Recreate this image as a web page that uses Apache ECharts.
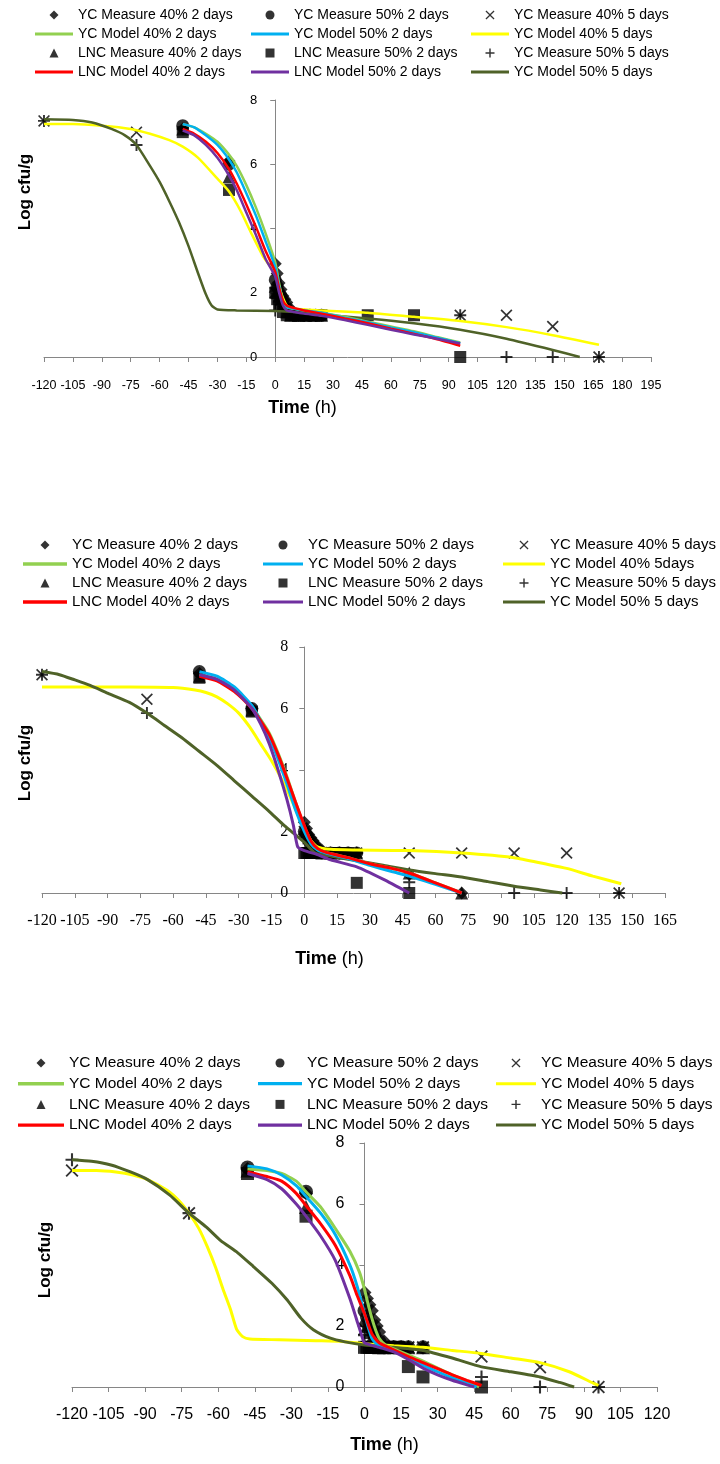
<!DOCTYPE html>
<html><head><meta charset="utf-8">
<script src="https://cdn.jsdelivr.net/npm/echarts@6/dist/echarts.min.js"></script>
<style>html,body{margin:0;padding:0;background:#fff}#c{width:720px;height:1464px}</style>
</head><body><div id="c"></div><script>
// ---------- legend / series names ----------
const LEGEND_COL1 = ['YC Measure 40% 2 days', 'YC Model 40% 2 days', 'LNC Measure 40% 2 days', 'LNC Model 40% 2 days'];
const LEGEND_COL2 = ['YC Measure 50% 2 days', 'YC Model 50% 2 days', 'LNC Measure 50% 2 days', 'LNC Model 50% 2 days'];
const LEGEND_COL3 = ['YC Measure 40% 5 days', 'YC Model 40% 5 days', 'YC Measure 50% 5 days', 'YC Model 50% 5 days'];
const LEGEND_COL3_P2 = ['YC Measure 40% 5 days', 'YC Model 40% 5days', 'YC Measure 50% 5 days', 'YC Model 50% 5 days'];
const X_MIN = -120;
const X_MAX = [195, 165, 120];

// ---------- Panel 1 data [time h, log cfu/g] ----------
const p1_ycModel40_2d = [[-48,7.25],[-42,7.15],[-36,6.95],[-30,6.7],[-24,6.3],[-20,5.95],[-15,5.35],[-10,4.65],[-5,3.85],[0,2.95],[2,2.3],[4,1.75],[6,1.55],[10,1.5],[15,1.45],[24,1.38],[36,1.25],[48,1.1],[60,0.95],[72,0.8],[84,0.62],[96,0.45]];
const p1_ycModel50_2d = [[-48,7.25],[-42,7.15],[-36,6.9],[-30,6.6],[-24,6.15],[-20,5.75],[-15,5.1],[-10,4.4],[-5,3.6],[0,2.8],[2,2.2],[4,1.7],[6,1.55],[10,1.5],[15,1.45],[24,1.38],[36,1.22],[48,1.08],[60,0.92],[72,0.77],[84,0.6],[96,0.43]];
const p1_lncModel40_2d = [[-48,7.1],[-42,6.95],[-36,6.7],[-30,6.35],[-24,5.85],[-20,5.4],[-15,4.75],[-10,4.05],[-5,3.3],[0,2.65],[2,2.15],[4,1.75],[6,1.6],[10,1.52],[15,1.45],[24,1.35],[36,1.2],[48,1.05],[60,0.88],[72,0.72],[84,0.55],[96,0.35]];
const p1_lncModel50_2d = [[-48,7.05],[-42,6.9],[-36,6.6],[-30,6.2],[-24,5.65],[-20,5.2],[-15,4.5],[-10,3.8],[-5,3.05],[0,2.5],[2,2.0],[4,1.6],[6,1.45],[10,1.4],[15,1.35],[24,1.28],[36,1.15],[48,1.0],[60,0.85],[72,0.7],[84,0.57],[96,0.42]];
const p1_ycModel40_5d = [[-120,7.25],[-105,7.25],[-90,7.2],[-75,7.1],[-65,6.95],[-55,6.75],[-48,6.55],[-40,6.2],[-30,5.55],[-24,5.15],[-18,4.55],[-12,3.8],[-6,3.1],[0,2.6],[3,2.0],[6,1.6],[10,1.5],[24,1.45],[48,1.38],[72,1.25],[96,1.12],[120,0.93],[144,0.68],[168,0.38]];
const p1_ycModel50_5d = [[-120,7.4],[-105,7.38],[-95,7.3],[-85,7.1],[-78,6.9],[-72,6.6],[-65,5.95],[-60,5.45],[-55,4.85],[-50,4.2],[-45,3.45],[-40,2.6],[-36,1.95],[-33,1.6],[-30,1.48],[-20,1.45],[0,1.43],[10,1.4],[24,1.32],[48,1.2],[72,1.05],[96,0.85],[120,0.57],[144,0.22],[158,0]];
const p1_ycMeas40_2d = [[-48,7.1],[-24,6.1],[0,2.9],[1,2.6],[2,2.3],[3,2.1],[4,1.9],[5,1.8],[6,1.7],[8,1.5],[10,1.35],[12,1.3],[15,1.3],[18,1.3],[21,1.3],[24,1.3]];
const p1_ycMeas50_2d = [[-48,7.2],[-24,6.0],[0,2.4],[1,2.2],[2,2.0],[3,1.9],[4,1.7],[6,1.5],[8,1.4],[10,1.3],[12,1.3],[15,1.3],[18,1.3],[21,1.3],[24,1.3]];
const p1_lncMeas40_2d = [[-48,7.1],[-24,5.6],[0,2.2],[1,2.0],[2,1.9],[3,1.8],[4,1.6],[6,1.4],[8,1.3],[12,1.3],[16,1.3],[20,1.3],[24,1.3]];
const p1_lncMeas50_2d = [[-48,7.0],[-24,5.2],[0,2.0],[1,1.8],[2,1.6],[4,1.4],[6,1.3],[8,1.3],[10,1.3],[12,1.3],[14,1.3],[16,1.3],[18,1.3],[20,1.3],[22,1.3],[24,1.3],[48,1.3],[72,1.3],[96,0]];
const p1_ycMeas40_5d = [[-120,7.35],[-72,7.0],[0,2.0],[96,1.3],[120,1.3],[144,0.95],[168,0]];
const p1_ycMeas50_5d = [[-120,7.35],[-72,6.6],[0,1.45],[96,1.3],[120,0],[144,0],[168,0]];

// ---------- Panel 2 data ----------
const p2_ycModel40_2d = [[-48,7.1],[-40,6.95],[-32,6.6],[-24,6.05],[-20,5.65],[-16,5.2],[-12,4.55],[-8,3.8],[-4,2.95],[0,2.15],[3,1.7],[6,1.45],[10,1.32],[20,1.15],[30,0.95],[40,0.8],[48,0.65],[60,0.33],[72,0]];
const p2_ycModel50_2d = [[-48,7.2],[-40,7.05],[-32,6.7],[-24,6.1],[-20,5.6],[-16,5.05],[-12,4.35],[-8,3.55],[-4,2.7],[0,2.0],[3,1.6],[6,1.4],[10,1.3],[20,1.12],[30,0.9],[40,0.7],[48,0.55],[60,0.28],[72,0]];
const p2_lncModel40_2d = [[-48,7.05],[-40,6.9],[-32,6.55],[-24,6.0],[-20,5.6],[-16,5.15],[-12,4.5],[-8,3.75],[-4,2.95],[0,2.2],[3,1.7],[6,1.45],[10,1.32],[20,1.15],[30,0.95],[40,0.8],[48,0.65],[60,0.33],[72,0]];
const p2_lncModel50_2d = [[-48,7.1],[-40,6.95],[-32,6.6],[-24,6.0],[-20,5.5],[-16,4.85],[-12,4.0],[-8,3.05],[-5,2.2],[-3,1.5],[0,1.38],[6,1.25],[12,1.08],[24,0.85],[36,0.45],[48,0]];
const p2_ycModel40_5d = [[-120,6.7],[-100,6.7],[-80,6.7],[-60,6.68],[-50,6.6],[-45,6.52],[-40,6.38],[-35,6.15],[-30,5.85],[-25,5.4],[-20,4.85],[-15,4.3],[-10,3.65],[-6,3.05],[-2,2.4],[0,2.1],[3,1.7],[6,1.5],[12,1.42],[24,1.4],[48,1.38],[72,1.3],[96,1.15],[110,0.95],[120,0.8],[132,0.55],[145,0.3]];
const p2_ycModel50_5d = [[-120,7.2],[-112,7.1],[-105,6.93],[-98,6.75],[-90,6.5],[-80,6.2],[-72,5.85],[-64,5.45],[-56,5.05],[-48,4.6],[-40,4.15],[-32,3.65],[-24,3.15],[-16,2.65],[-10,2.25],[-5,1.95],[0,1.65],[5,1.3],[12,1.2],[24,1.05],[36,0.9],[48,0.75],[60,0.63],[72,0.52],[84,0.37],[96,0.22],[108,0.1],[118,0]];
const p2_ycMeas40_2d = [[-48,7.15],[-24,6.0],[0,2.3],[1,2.1],[2,1.9],[3,1.8],[4,1.7],[5,1.6],[6,1.5],[8,1.4],[10,1.3],[12,1.3],[16,1.3],[20,1.3],[24,1.3],[48,0.6],[72,0]];
const p2_ycMeas50_2d = [[-48,7.2],[-24,6.0],[0,2.0],[1,1.9],[2,1.7],[4,1.5],[6,1.4],[8,1.3],[12,1.3],[16,1.3],[20,1.3],[24,1.3]];
const p2_lncMeas40_2d = [[-48,7.05],[-24,5.95],[0,2.1],[1,2.0],[2,1.8],[3,1.7],[4,1.6],[6,1.4],[8,1.3],[12,1.3],[16,1.3],[20,1.3],[24,1.3],[48,0.65],[72,0]];
const p2_lncMeas50_2d = [[-48,7.0],[-24,5.9],[0,1.3],[1,1.3],[2,1.3],[3,1.3],[4,1.3],[6,1.3],[8,1.3],[10,1.3],[12,1.3],[14,1.3],[16,1.3],[18,1.3],[20,1.3],[24,0.33],[48,0]];
const p2_ycMeas40_5d = [[-120,7.1],[-72,6.3],[0,2.0],[24,1.3],[48,1.3],[72,1.3],[96,1.3],[120,1.3],[144,0]];
const p2_ycMeas50_5d = [[-120,7.1],[-72,5.85],[0,1.8],[24,1.3],[48,0.35],[96,0],[120,0],[144,0]];

// ---------- Panel 3 data ----------
const p3_ycModel40_2d = [[-48,7.15],[-40,7.1],[-34,7.0],[-28,6.75],[-24,6.4],[-18,5.9],[-12,5.2],[-6,4.45],[-2,3.75],[0,3.2],[2,2.55],[4,2.0],[6,1.6],[9,1.35],[12,1.25],[18,1.05],[24,0.85],[30,0.62],[36,0.4],[42,0.2],[47,0]];
const p3_ycModel50_2d = [[-48,7.25],[-40,7.15],[-34,6.95],[-28,6.6],[-24,6.25],[-18,5.7],[-12,5.0],[-6,4.0],[-3,3.3],[0,2.4],[3,1.6],[6,1.35],[12,1.2],[18,0.95],[24,0.72],[30,0.5],[36,0.3],[42,0.12],[46,0]];
const p3_lncModel40_2d = [[-48,7.05],[-40,6.9],[-34,6.75],[-28,6.35],[-24,5.95],[-18,5.35],[-12,4.65],[-6,3.65],[-3,3.0],[0,2.4],[3,1.75],[6,1.45],[12,1.22],[18,1.0],[24,0.8],[30,0.6],[36,0.4],[42,0.22],[48,0.05]];
const p3_lncModel50_2d = [[-48,7.0],[-40,6.8],[-34,6.5],[-28,6.0],[-24,5.6],[-18,4.95],[-12,4.15],[-6,2.9],[-3,2.15],[-1,1.65],[0,1.45],[6,1.3],[12,1.15],[18,0.9],[24,0.62],[30,0.4],[36,0.22],[42,0.07],[45,0]];
const p3_ycModel40_5d = [[-120,7.1],[-110,7.1],[-102,7.05],[-95,6.95],[-89,6.8],[-81,6.45],[-76,6.1],[-72,5.7],[-68,5.2],[-64.5,4.6],[-61,3.9],[-58,3.2],[-55,2.55],[-52.5,1.9],[-50,1.65],[-47,1.57],[-35,1.55],[-20,1.52],[-10,1.5],[0,1.42],[12,1.35],[24,1.3],[36,1.2],[48,1.1],[60,0.95],[72,0.8],[84,0.5],[94,0.12],[96,0.05]];
const p3_ycModel50_5d = [[-120,7.45],[-112,7.4],[-104,7.28],[-96,7.05],[-89,6.8],[-80,6.3],[-72,5.7],[-65,5.25],[-59,4.8],[-52,4.4],[-45.6,3.95],[-38,3.4],[-31.7,2.85],[-26,2.25],[-21,1.88],[-14,1.6],[-8,1.48],[0,1.38],[12,1.3],[24,1.2],[36,0.95],[48,0.66],[60,0.5],[72,0.33],[80,0.15],[86,0]];
const p3_ycMeas40_2d = [[-48,7.15],[-24,6.35],[0,3.1],[1,2.9],[2,2.7],[3,2.5],[4,2.2],[5,2.0],[6,1.8],[8,1.5],[10,1.3],[12,1.3],[15,1.3],[18,1.3],[24,1.3]];
const p3_ycMeas50_2d = [[-48,7.2],[-24,6.4],[0,2.5],[1,2.3],[2,2.1],[3,1.9],[4,1.7],[6,1.5],[8,1.3],[12,1.3],[15,1.3],[18,1.3],[24,1.3]];
const p3_lncMeas40_2d = [[-48,7.1],[-24,5.9],[0,2.2],[1,2.0],[2,1.8],[3,1.6],[4,1.5],[6,1.3],[8,1.3],[12,1.3],[15,1.3],[18,1.3],[24,1.3]];
const p3_lncMeas50_2d = [[-48,7.0],[-24,5.6],[0,1.3],[1,1.3],[2,1.3],[3,1.3],[4,1.3],[6,1.3],[8,1.3],[10,1.3],[12,1.3],[14,1.3],[18,0.67],[24,0.33],[48,0]];
const p3_ycMeas40_5d = [[-120,7.1],[-72,5.7],[0,1.9],[18,1.3],[24,1.3],[48,1.0],[72,0.65],[96,0]];
const p3_ycMeas50_5d = [[-120,7.45],[-72,5.7],[0,1.7],[18,1.3],[24,1.3],[48,0.33],[72,0],[96,0]];

// ---------- styling ----------
const FONT = "'Liberation Sans', Arial, sans-serif";
const SERIF = "'Liberation Serif', 'Times New Roman', serif";
const C = {green:'#92D050', blue:'#00B0F0', yellow:'#FFFF00', red:'#FF0000', purple:'#7030A0', olive:'#4F6228'};
const SYM = {
  x: 'path://M0,1L1,0L5,4L9,0L10,1L6,5L10,9L9,10L5,6L1,10L0,9L4,5Z',
  plus: 'path://M4.2,0H5.8V4.2H10V5.8H5.8V10H4.2V5.8H0V4.2H4.2Z',
  diamond: 'path://M5,0L10,5L5,10L0,5Z',
  triangle: 'path://M5,0L10,10L0,10Z',
  square: 'path://M0,0H10V10H0Z',
  circle: 'path://M5,0A5,5,0,1,1,5,10A5,5,0,1,1,5,0Z',
  line: 'path://M0,0H40V3H0Z'
};
const GRIDS = [
  {left:44, top:100, width:607, height:257},
  {left:42, top:647, width:623, height:246},
  {left:72, top:1143, width:585, height:244}
];

function line(name, data, color, gi, w) {
  return {type:'line', name, data, xAxisIndex:gi, yAxisIndex:gi, symbol:'none', showSymbol:false,
    smooth:0.2, clip:false, lineStyle:{color, width:w}, itemStyle:{color}, emphasis:{disabled:true}};
}
function pts(name, data, symbol, size, gi) {
  return {type:'scatter', name, data, xAxisIndex:gi, yAxisIndex:gi, symbol, symbolSize:size, clip:false,
    itemStyle:{color:'#000'}, emphasis:{disabled:true}};
}
function panel(gi, d, col3, w, ms) {
  return [
    line(col3[1], d.y, C.yellow, gi, w),
    line(col3[3], d.o, C.olive, gi, w),
    line(LEGEND_COL1[1], d.g, C.green, gi, w),
    line(LEGEND_COL2[1], d.b, C.blue, gi, w),
    line(LEGEND_COL1[3], d.r, C.red, gi, w),
    line(LEGEND_COL2[3], d.p, C.purple, gi, w),
    pts(LEGEND_COL2[0], d.cir, SYM.circle, ms, gi),
    pts(LEGEND_COL1[0], d.dia, SYM.diamond, ms, gi),
    pts(LEGEND_COL1[2], d.tri, SYM.triangle, ms, gi),
    pts(LEGEND_COL2[2], d.sq, SYM.square, ms - 1, gi),
    pts(col3[0], d.x, SYM.x, ms - 1, gi),
    pts(col3[2], d.plus, SYM.plus, ms - 1, gi)
  ];
}
// rows 2 and 4 of each column are model lines -> plain line icon
function legendCol(left, top, names, iw, gap, fs) {
  const data = names.map((n, i) => (i % 2 === 1) ? {name:n, icon:SYM.line} : {name:n});
  return {orient:'vertical', left, top, padding:0, itemWidth:iw, itemHeight:9, itemGap:gap,
    selectedMode:false, symbolKeepAspect:true, data,
    textStyle:{fontFamily:FONT, fontSize:fs, color:'#000', lineHeight:16}};
}
function xAx(gi, font, fs, margin, gap, pad) {
  return {type:'value', gridIndex:gi, min:X_MIN, max:X_MAX[gi], interval:15,
    axisLine:{show:true, onZero:true, lineStyle:{color:'#868686', width:1}},
    axisTick:{show:true, length:5, lineStyle:{color:'#868686'}},
    splitLine:{show:false},
    axisLabel:{fontFamily:font, fontSize:fs, color:'#000', margin, showMinLabel:true, showMaxLabel:true, hideOverlap:false},
    name:'{b|Time} (h)', nameLocation:'middle', nameGap:gap, nameMoveOverlap:false,
    nameTextStyle:{fontFamily:FONT, fontSize:18, color:'#000', lineHeight:20, padding:pad,
      rich:{b:{fontFamily:FONT, fontSize:18, fontWeight:'bold', color:'#000', lineHeight:20}}}};
}
// the vertical axis sits at time 0: shift it inwards from the grid's left edge
function yAx(gi, font, fs, margin, nameX, pad) {
  const zeroOffset = (0 - X_MIN) / (X_MAX[gi] - X_MIN) * GRIDS[gi].width;
  const axisX = GRIDS[gi].left + zeroOffset;
  return {type:'value', gridIndex:gi, min:0, max:8, interval:2, offset:-zeroOffset,
    axisLine:{show:true, onZero:false, lineStyle:{color:'#868686', width:1}},
    axisTick:{show:true, length:5, lineStyle:{color:'#868686'}},
    splitLine:{show:false},
    axisLabel:{fontFamily:font, fontSize:fs, color:'#000', margin, showMinLabel:true, showMaxLabel:true},
    name:'Log cfu/g', nameLocation:'middle', nameGap:axisX - nameX - 9, nameMoveOverlap:false,
    nameTextStyle:{fontFamily:FONT, fontSize:17, fontWeight:'bold', color:'#000', lineHeight:18, padding:pad}};
}

const D1 = {g:p1_ycModel40_2d, b:p1_ycModel50_2d, r:p1_lncModel40_2d, p:p1_lncModel50_2d, y:p1_ycModel40_5d, o:p1_ycModel50_5d,
  dia:p1_ycMeas40_2d, cir:p1_ycMeas50_2d, tri:p1_lncMeas40_2d, sq:p1_lncMeas50_2d, x:p1_ycMeas40_5d, plus:p1_ycMeas50_5d};
const D2 = {g:p2_ycModel40_2d, b:p2_ycModel50_2d, r:p2_lncModel40_2d, p:p2_lncModel50_2d, y:p2_ycModel40_5d, o:p2_ycModel50_5d,
  dia:p2_ycMeas40_2d, cir:p2_ycMeas50_2d, tri:p2_lncMeas40_2d, sq:p2_lncMeas50_2d, x:p2_ycMeas40_5d, plus:p2_ycMeas50_5d};
const D3 = {g:p3_ycModel40_2d, b:p3_ycModel50_2d, r:p3_lncModel40_2d, p:p3_lncModel50_2d, y:p3_ycModel40_5d, o:p3_ycModel50_5d,
  dia:p3_ycMeas40_2d, cir:p3_ycMeas50_2d, tri:p3_lncMeas40_2d, sq:p3_lncMeas50_2d, x:p3_ycMeas40_5d, plus:p3_ycMeas50_5d};

const option = {
  animation:false,
  backgroundColor:'#fff',
  grid: GRIDS.map(g => Object.assign({containLabel:false, outerBoundsMode:'none'}, g)),
  xAxis:[
    xAx(0, FONT, 12.5, 22, 41, [0,90,0,0]),
    xAx(1, SERIF, 16, 20, 56, [0,48,0,0]),
    xAx(2, FONT, 16, 20, 48, [0,0,0,40])
  ],
  yAxis:[
    yAx(0, FONT, 13, 18, 25, [0,0,0,73]),
    yAx(1, SERIF, 16, 16, 25, [0,0,0,14]),
    yAx(2, FONT, 16, 20, 45, [0,0,0,10])
  ],
  legend:[
    legendCol(35, 7, LEGEND_COL1, 38, 3, 14),
    legendCol(251, 7, LEGEND_COL2, 38, 3, 14),
    legendCol(471, 7, LEGEND_COL3, 38, 3, 14),
    legendCol(23, 537, LEGEND_COL1, 44, 3, 15),
    legendCol(263, 537, LEGEND_COL2, 40, 3, 15),
    legendCol(503, 537, LEGEND_COL3_P2, 42, 3, 15),
    legendCol(18, 1055, LEGEND_COL1, 46, 4.7, 15.5),
    legendCol(258, 1055, LEGEND_COL2, 44, 4.7, 15.5),
    legendCol(496, 1055, LEGEND_COL3, 40, 4.7, 15.5)
  ],
  series:[].concat(panel(0, D1, LEGEND_COL3, 2.5, 13), panel(1, D2, LEGEND_COL3_P2, 3, 13), panel(2, D3, LEGEND_COL3, 3, 14))
};
const chart = echarts.init(document.getElementById('c'), null, {renderer:'canvas'});
chart.setOption(option);
</script></body></html>
